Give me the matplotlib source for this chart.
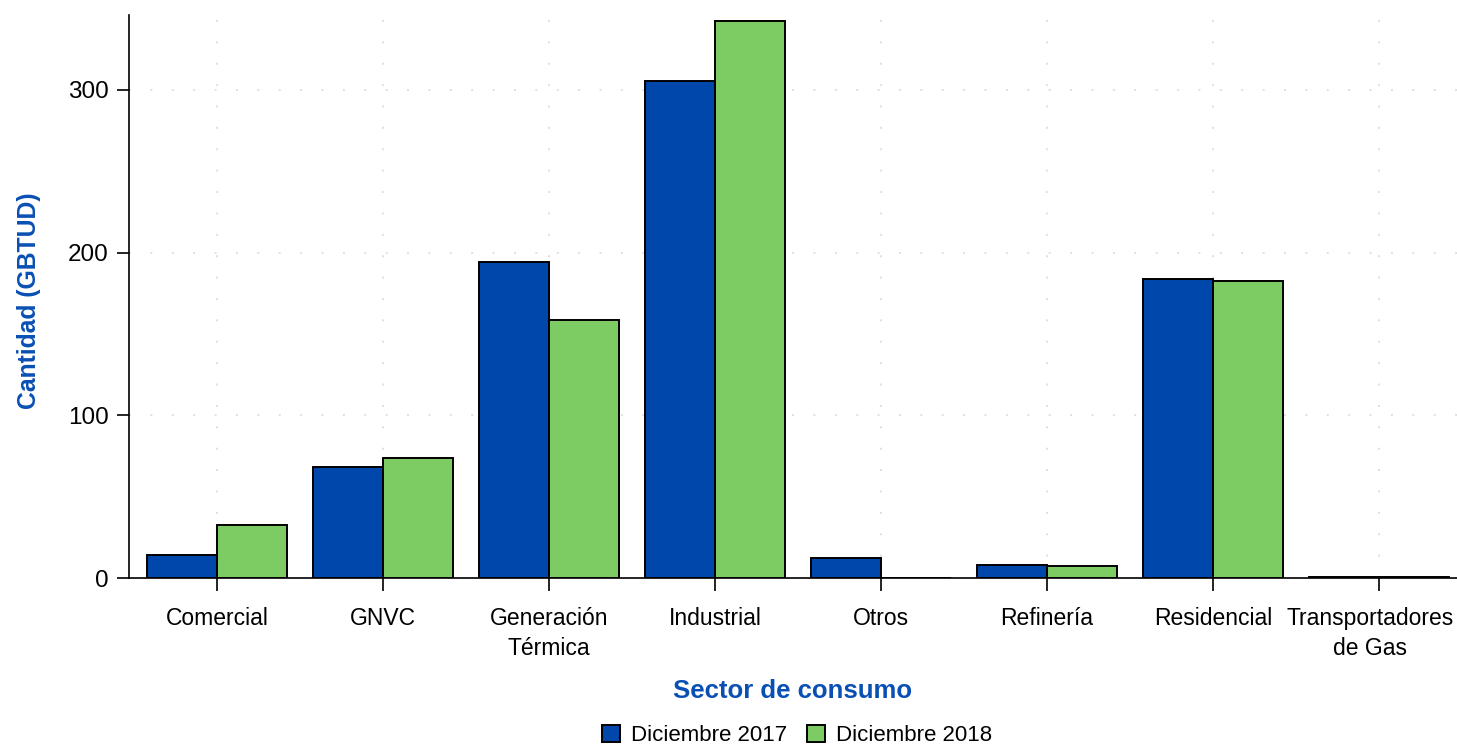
import matplotlib.pyplot as plt
import numpy as np
from matplotlib.transforms import ScaledTranslation

plt.rcParams["font.family"] = ["Liberation Sans", "DejaVu Sans"]

sectores = ["Comercial", "GNVC", "Generación\nTérmica", "Industrial", "Otros",
            "Refinería", "Residencial", "Transportadores\nde Gas"]
dic_2017 = [14.0, 68.5, 194.5, 305.5, 12.0, 8.3, 184.0, 0.4]
dic_2018 = [32.5, 74.0, 158.5, 342.5, 0.0, 7.5, 182.8, 0.4]

azul = "#0047AB"
verde = "#7DCB63"
azul_texto = "#0A50B4"

fig = plt.figure(figsize=(14.57, 7.44), dpi=100)
ax = fig.add_axes([0.0885, 0.2231, 0.9115, 0.7567])

x = np.arange(len(sectores))
w = 0.42
ax.bar(x - w / 2, dic_2017, width=w, color=azul, edgecolor="black", linewidth=1.4,
       label="Diciembre 2017", zorder=3)
ax.bar(x + w / 2, dic_2018, width=w, color=verde, edgecolor="black", linewidth=1.4,
       label="Diciembre 2018", zorder=3)

ax.set_xlim(-0.53, 7.47)
ax.set_ylim(0, 346)
ax.set_xticks(x)
ax.set_xticklabels(sectores, fontsize=16.5, linespacing=1.36)
ax.set_yticks([0, 100, 200, 300])
ax.tick_params(axis="y", labelsize=17.5, length=8.5, width=1.2, pad=6)
ax.tick_params(axis="x", length=9, width=1.2, pad=12)

# la última etiqueta se corre un poco a la izquierda para que quepa
last = ax.get_xticklabels()[-1]
last.set_transform(last.get_transform() + ScaledTranslation(-9 / 100, 0, fig.dpi_scale_trans))

ax.grid(True, color="#E0E0E0", linestyle=(0, (1, 10)), linewidth=1.4, zorder=0)
for side in ("top", "right"):
    ax.spines[side].set_visible(False)
ax.spines["left"].set_linewidth(1.2)
ax.spines["bottom"].set_linewidth(1.2)

ax.set_xlabel("Sector de consumo", fontsize=18.5, fontweight="bold", color=azul_texto,
              labelpad=14)
ax.set_ylabel("Cantidad (GBTUD)", fontsize=17.8, fontweight="bold", color=azul_texto)
ax.yaxis.set_label_coords(-0.066, 0.492)

fig.legend(loc="lower center", bbox_to_anchor=(0.547, -0.03), ncol=2, frameon=False,
           fontsize=16, handlelength=0.8, handleheight=0.8, handletextpad=0.5,
           columnspacing=0.9)

fig.savefig("out.png", dpi=100)
